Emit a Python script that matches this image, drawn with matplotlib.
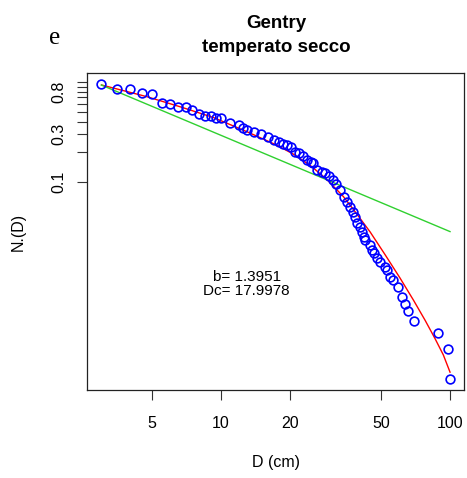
import numpy as np
import matplotlib
matplotlib.use("Agg")
import matplotlib.pyplot as plt
from matplotlib.ticker import FixedLocator, NullLocator, FixedFormatter

# observed points (diameter in cm, normalised N.(D))
D_obs = [3.0, 3.5, 4.0, 4.5, 5.0, 5.5, 6.0, 6.5, 7.0, 7.5, 8.0, 8.5, 9.0, 9.5, 10.0,
         11.0, 12.0, 12.5, 13.0, 14.0, 15.0, 16.0, 17.0, 18.0, 18.6, 19.4, 20.2,
         21.1, 22.0, 22.7, 23.7, 24.6, 25.3, 26.3, 27.5, 28.5, 29.7, 30.7, 31.8,
         33.1, 34.5, 35.6, 36.6, 37.6, 38.5, 39.4, 40.4, 41.1, 42.1, 42.6, 44.8,
         45.5, 46.6, 47.8, 49.5, 52.0, 52.9, 54.7, 56.2, 59.4, 61.5, 63.6, 65.7,
         69.8, 88.9, 98.0, 100.0]
N_obs = [0.95, 0.86, 0.845, 0.77, 0.76, 0.615, 0.605, 0.557, 0.561, 0.524, 0.478,
         0.456, 0.459, 0.433, 0.438, 0.386, 0.373, 0.343, 0.328, 0.318, 0.301,
         0.279, 0.265, 0.250, 0.239, 0.233, 0.224, 0.200, 0.193, 0.181, 0.165,
         0.159, 0.153, 0.131, 0.126, 0.121, 0.114, 0.104, 0.0948, 0.0826, 0.0708,
         0.0630, 0.0561, 0.0500, 0.0446, 0.0388, 0.0354, 0.0315, 0.0281, 0.0260,
         0.0232, 0.0206, 0.0191, 0.0171, 0.0158, 0.0140, 0.0130, 0.0111, 0.0103,
         0.00885, 0.00693, 0.00593, 0.00505, 0.00403, 0.00305, 0.00208, 0.00106]

# tapered fit (red)
D_fit = [3.01, 4.74, 6.62, 9.25, 12.95, 17.5, 20.7, 24.5, 28.9, 34.2, 38.5,
         44.8, 52.0, 60.5, 69.2, 77.9, 86.0, 93.5, 100.0]
N_fit = [0.933, 0.713, 0.565, 0.441, 0.318, 0.233, 0.189, 0.146, 0.106, 0.0711,
         0.0500, 0.0313, 0.0186, 0.0108, 0.0065, 0.00406, 0.00267, 0.00183, 0.00123]

# power-law fit (green)
D_pow = [3.0, 100.0]
N_pow = [0.933, 0.0316]

x_ticks = [5, 10, 20, 50, 100]
x_ticklabels = ["5", "10", "20", "50", "100"]
y_ticks = [0.1, 0.2, 0.3, 0.4, 0.5, 0.6, 0.7, 0.8, 0.9, 1.0]
y_ticklabels = ["0.1", "", "0.3", "", "", "", "", "0.8", "", ""]

plt.rcParams['font.family'] = ['Liberation Sans', 'DejaVu Sans']

W, H = 467, 478
fig = plt.figure(figsize=(W / 100, H / 100), dpi=100)
ax = fig.add_axes([87 / W, 1 - 390 / H, (464 - 87) / W, (390 - 73) / H])

ax.set_xscale('log')
ax.set_yscale('log')
ax.plot(D_obs, N_obs, linestyle='none', marker='o', markersize=6.3,
        markerfacecolor='none', markeredgecolor='#0000ff', markeredgewidth=1.2, zorder=3)
ax.plot(D_fit, N_fit, color='#ff0000', lw=1.0, zorder=2)
ax.plot(D_pow, N_pow, color='#2fd02f', lw=1.0, zorder=2)

ax.set_xlim(10 ** 0.4148, 10 ** 2.061)
ax.set_ylim(10 ** -3.089, 10 ** 0.0903)

ax.xaxis.set_major_locator(FixedLocator(x_ticks))
ax.xaxis.set_major_formatter(FixedFormatter(x_ticklabels))
ax.xaxis.set_minor_locator(NullLocator())
ax.yaxis.set_major_locator(FixedLocator(y_ticks))
ax.yaxis.set_major_formatter(FixedFormatter(y_ticklabels))
ax.yaxis.set_minor_locator(NullLocator())

ax.tick_params(axis='both', direction='out', length=7, width=0.8, color='#333333',
               labelsize=11.5)
ax.tick_params(axis='x', pad=12)
ax.tick_params(axis='y', pad=8)
for lbl in ax.get_yticklabels():
    lbl.set_rotation(90)
    lbl.set_va('center')

for s in ax.spines.values():
    s.set_linewidth(0.9)
    s.set_color('#222222')

ax.set_xlabel("D (cm)", fontsize=11.5, labelpad=17)
ax.set_ylabel("N.(D)", fontsize=11.5, labelpad=18)

ax.text(12.95, 0.0094, "b= 1.3951\nDc= 17.9978", ha='center', va='center',
        fontsize=11, linespacing=1.0)

fig.text(276 / W, 1 - 23 / H, "Gentry", ha='center', va='center',
         fontsize=13.5, fontweight='bold')
fig.text(276 / W, 1 - 48 / H, "temperato secco", ha='center', va='center',
         fontsize=13.5, fontweight='bold')
fig.text(55 / W, 1 - 38 / H, "e", ha='center', va='center', fontsize=18,
         family=['Liberation Serif', 'DejaVu Serif'])

fig.savefig("out.png", dpi=100)
